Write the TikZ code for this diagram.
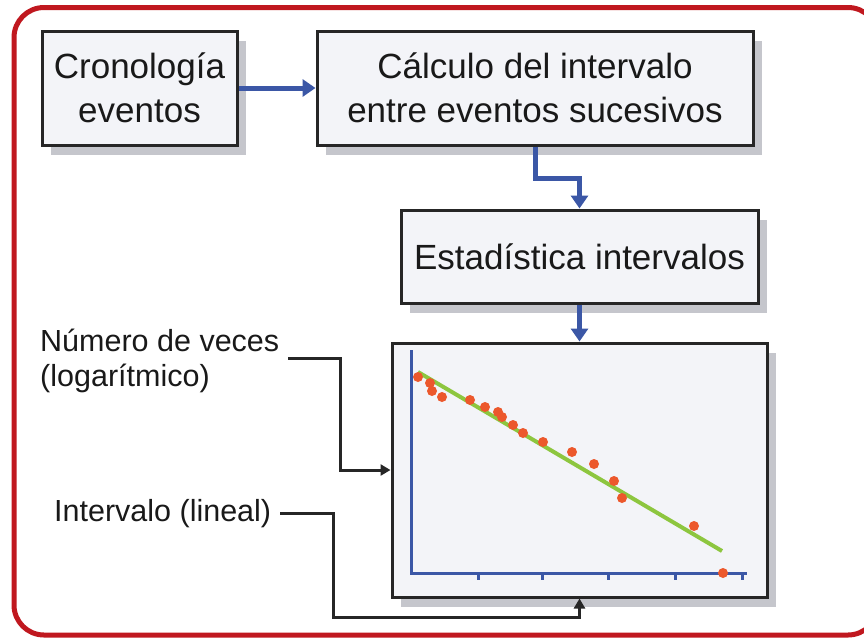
\documentclass[tikz,border=0pt]{standalone}
\usepackage{fontspec}
\setmainfont{Liberation Sans}
\usetikzlibrary{arrows.meta,shadows}
\definecolor{framered}{RGB}{192,24,31}
\definecolor{flowblue}{RGB}{59,87,166}
\definecolor{boxfill}{RGB}{243,244,248}
\definecolor{boxshadow}{RGB}{197,198,204}
\definecolor{fitgreen}{RGB}{141,198,63}
\definecolor{dotred}{RGB}{236,88,44}

\begin{document}
\begin{tikzpicture}[x=1pt,y=-1pt,
  stepbox/.style={draw=black!85,line width=3pt,fill=boxfill,inner sep=0pt,align=center,
    text=black!90,font=\fontsize{35}{44}\selectfont,
    drop shadow={shadow xshift=9pt,shadow yshift=-10pt,fill=boxshadow,opacity=1}},
  flow/.style={-{Triangle[length=13pt,width=17pt]},line width=5pt,color=flowblue},
  pointer/.style={-{Triangle[length=10pt,width=11pt]},line width=3pt,color=black!85},
  sidetext/.style={inner sep=0pt,align=left,text=black!90,font=\fontsize{30.5}{35}\selectfont}]
\useasboundingbox (0,0) rectangle (864,638);
\fill[white] (0,0) rectangle (864,638);

% outer frame
\begin{scope}
\clip (0,0) rectangle (864,638);
\draw[framered,line width=5pt,rounded corners=30pt] (14,7.5) rectangle (878,635);
\end{scope}

% flow boxes
\node[stepbox,minimum width=195pt,minimum height=114pt] (cron) at (139.5,88) {Cronología\\eventos};
\node[stepbox,minimum width=436pt,minimum height=114pt] (calc) at (535,88) {Cálculo del intervalo\\entre eventos sucesivos};
\node[stepbox,minimum width=357pt,minimum height=93pt] (stat) at (579.5,256.5) {Estadística intervalos};
\node[stepbox,minimum width=375pt,minimum height=254pt] (plot) at (579.5,470) {};

\draw[flow] (cron) -- (calc);
\draw[flow] (calc.south) -- ++(0,32) -| (stat.north);
\draw[flow] (stat) -- (plot);

% plot inside
\draw[flowblue,line width=3pt] (411,350) -- (411,573) -- (747,573);
\foreach \x in {478,542,608,675,742}
  \draw[flowblue,line width=3pt] (\x,573) -- (\x,580);
\draw[fitgreen,line width=4pt] (418,372) -- (722,551);
\foreach \x/\y in {418/377,430/383,432/391,442/397,470/400,485/407,498/412,502/417,
  513/425,523/433,543/442,572/452,594/464,614/481,622/498,694/526,723/573}
  \fill[dotred] (\x,\y) circle (5);

% axis labels
\node[sidetext,anchor=north west] (num) at (40,329) {Número de veces\\(logarítmico)};
\node[sidetext,anchor=base west] (intv) at (54,521) {Intervalo (lineal)};

\draw[pointer] ([xshift=9pt]num.north east) ++(0,29) -- ++(52,0) |- (plot.west);
\draw[pointer] ([xshift=9pt]intv.east) -- ++(53,0) -- ++(0,104) -| (plot.south);
\end{tikzpicture}
\end{document}
